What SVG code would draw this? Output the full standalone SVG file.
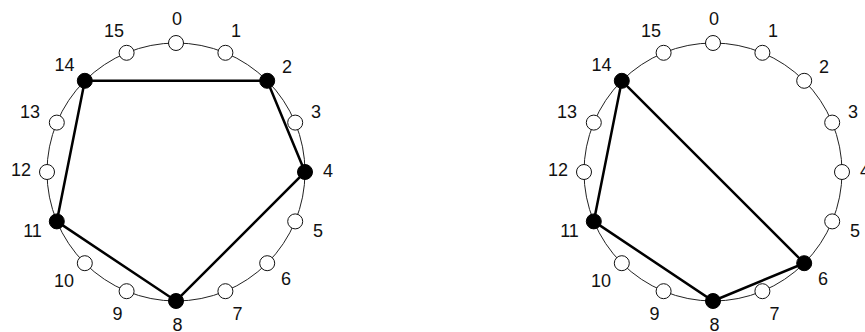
<svg xmlns="http://www.w3.org/2000/svg" width="865" height="332" viewBox="0 0 865 332">
  <style>
    .ring { fill: none; stroke: #222; stroke-width: 1; }
    .edge { stroke: #000; stroke-width: 2.5; stroke-linecap: round; fill: none; }
    .open { fill: #fff; stroke: #111; stroke-width: 1; }
    .full { fill: #000; stroke: #000; stroke-width: 1; }
    .lbl { font-family: "Liberation Sans", Arial, Helvetica, sans-serif; font-size: 18px; fill: #111; text-anchor: middle; }
  </style>
  <rect width="865" height="332" fill="#fff"/>

  <!-- Left ring: chords 14-2-4-8-11-14 -->
  <g id="ringA" transform="translate(176,172)">
    <circle class="ring" r="129"/>
    <g id="ringA-connectors">
      <polygon class="edge" points="-91.2,-91.2 91.2,-91.2 129,0 0,129 -119.2,49.4"/>
    </g>
    <g id="a0"><circle class="open" cx="0" cy="-129" r="7.5"/><text class="lbl" x="1" y="-147">0</text></g>
    <g id="a1"><circle class="open" cx="49.4" cy="-119.2" r="7.5"/><text class="lbl" x="60" y="-135">1</text></g>
    <g id="a2"><circle class="full" cx="91.2" cy="-91.2" r="7.5"/><text class="lbl" x="111" y="-99">2</text></g>
    <g id="a3"><circle class="open" cx="119.2" cy="-49.4" r="7.5"/><text class="lbl" x="140" y="-54">3</text></g>
    <g id="a4"><circle class="full" cx="129" cy="0" r="7.5"/><text class="lbl" x="152" y="5">4</text></g>
    <g id="a5"><circle class="open" cx="119.2" cy="49.4" r="7.5"/><text class="lbl" x="142" y="65">5</text></g>
    <g id="a6"><circle class="open" cx="91.2" cy="91.2" r="7.5"/><text class="lbl" x="110" y="113">6</text></g>
    <g id="a7"><circle class="open" cx="49.4" cy="119.2" r="7.5"/><text class="lbl" x="61.5" y="148">7</text></g>
    <g id="a8"><circle class="full" cx="0" cy="129" r="7.5"/><text class="lbl" x="1.5" y="159">8</text></g>
    <g id="a9"><circle class="open" cx="-49.4" cy="119.2" r="7.5"/><text class="lbl" x="-58.5" y="148">9</text></g>
    <g id="a10"><circle class="open" cx="-91.2" cy="91.2" r="7.5"/><text class="lbl" x="-112" y="115">10</text></g>
    <g id="a11"><circle class="full" cx="-119.2" cy="49.4" r="7.5"/><text class="lbl" x="-143.5" y="65">11</text></g>
    <g id="a12"><circle class="open" cx="-129" cy="0" r="7.5"/><text class="lbl" x="-155" y="4">12</text></g>
    <g id="a13"><circle class="open" cx="-119.2" cy="-49.4" r="7.5"/><text class="lbl" x="-146" y="-54">13</text></g>
    <g id="a14"><circle class="full" cx="-91.2" cy="-91.2" r="7.5"/><text class="lbl" x="-111.5" y="-101">14</text></g>
    <g id="a15"><circle class="open" cx="-49.4" cy="-119.2" r="7.5"/><text class="lbl" x="-62" y="-135">15</text></g>
  </g>

  <!-- Right ring: chords 14-6-8-11-14 -->
  <g id="ringB" transform="translate(713,172)">
    <circle class="ring" r="129"/>
    <g id="ringB-connectors">
      <polygon class="edge" points="-91.2,-91.2 91.2,91.2 0,129 -119.2,49.4"/>
    </g>
    <g id="b0"><circle class="open" cx="0" cy="-129" r="7.5"/><text class="lbl" x="1" y="-147">0</text></g>
    <g id="b1"><circle class="open" cx="49.4" cy="-119.2" r="7.5"/><text class="lbl" x="60" y="-135">1</text></g>
    <g id="b2"><circle class="open" cx="91.2" cy="-91.2" r="7.5"/><text class="lbl" x="111" y="-99">2</text></g>
    <g id="b3"><circle class="open" cx="119.2" cy="-49.4" r="7.5"/><text class="lbl" x="140" y="-54">3</text></g>
    <g id="b4"><circle class="open" cx="129" cy="0" r="7.5"/><text class="lbl" x="152" y="5">4</text></g>
    <g id="b5"><circle class="open" cx="119.2" cy="49.4" r="7.5"/><text class="lbl" x="142" y="65">5</text></g>
    <g id="b6"><circle class="full" cx="91.2" cy="91.2" r="7.5"/><text class="lbl" x="110" y="113">6</text></g>
    <g id="b7"><circle class="open" cx="49.4" cy="119.2" r="7.5"/><text class="lbl" x="61.5" y="148">7</text></g>
    <g id="b8"><circle class="full" cx="0" cy="129" r="7.5"/><text class="lbl" x="1.5" y="159">8</text></g>
    <g id="b9"><circle class="open" cx="-49.4" cy="119.2" r="7.5"/><text class="lbl" x="-58.5" y="148">9</text></g>
    <g id="b10"><circle class="open" cx="-91.2" cy="91.2" r="7.5"/><text class="lbl" x="-112" y="115">10</text></g>
    <g id="b11"><circle class="full" cx="-119.2" cy="49.4" r="7.5"/><text class="lbl" x="-143.5" y="65">11</text></g>
    <g id="b12"><circle class="open" cx="-129" cy="0" r="7.5"/><text class="lbl" x="-155" y="4">12</text></g>
    <g id="b13"><circle class="open" cx="-119.2" cy="-49.4" r="7.5"/><text class="lbl" x="-146" y="-54">13</text></g>
    <g id="b14"><circle class="full" cx="-91.2" cy="-91.2" r="7.5"/><text class="lbl" x="-111.5" y="-101">14</text></g>
    <g id="b15"><circle class="open" cx="-49.4" cy="-119.2" r="7.5"/><text class="lbl" x="-62" y="-135">15</text></g>
  </g>
</svg>
